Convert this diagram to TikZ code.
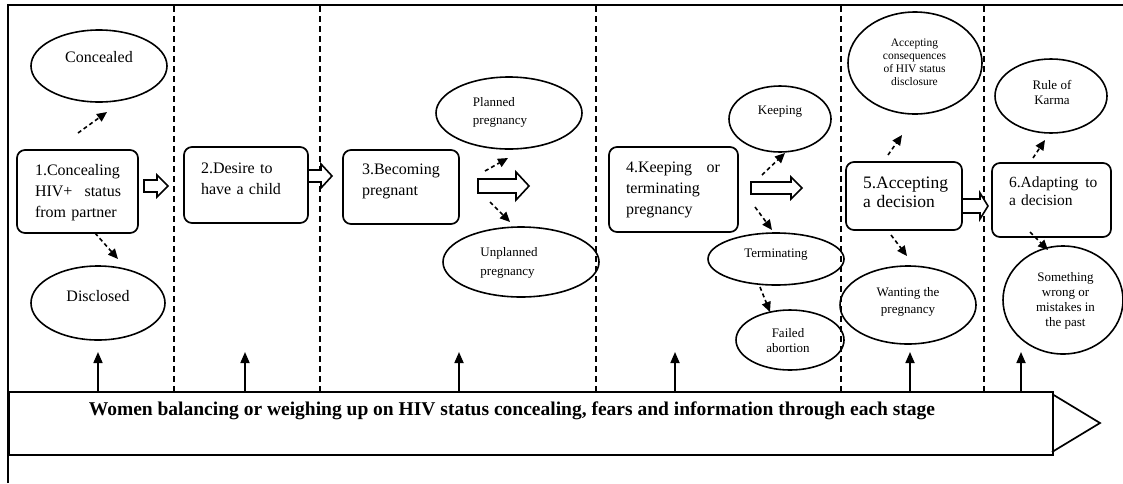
\documentclass[tikz,border=0pt]{standalone}
\usepackage{fontspec}
\setmainfont{Liberation Serif}
\usetikzlibrary{shapes.geometric,arrows.meta}
\newcommand\harrow[6]{\draw[hollow] (#1,#4-#5) -- (#3,#4-#5) -- (#3,#4-#6) -- (#2,#4) -- (#3,#4+#6) -- (#3,#4+#5) -- (#1,#4+#5) -- cycle;}
\begin{document}
\begin{tikzpicture}[x=1pt,y=-1pt,
  stagebox/.style={draw,rounded corners=8pt,line width=1.7pt,inner sep=0pt},
  stagetxt/.style={font=\fontsize{16}{21}\selectfont,align=left,inner sep=0pt},
  oval/.style={draw,ellipse,line width=1.6pt,inner sep=0pt},
  ovaltxt/.style={font=\fontsize{13}{15}\selectfont,align=center,inner sep=0pt},
  bigovaltxt/.style={font=\fontsize{16}{20}\selectfont,align=center,inner sep=0pt},
  dasharr/.style={line width=1.6pt,dash pattern=on 4pt off 3pt,-{Triangle[length=10pt,width=9pt]}},
  uparr/.style={line width=1.7pt,-{Triangle[length=11pt,width=9pt]}},
  divider/.style={line width=1.5pt,dash pattern=on 6pt off 4pt},
  hollow/.style={draw,line width=1.6pt,fill=white,line join=miter},
]
\useasboundingbox (0,0) rectangle (1123,483);
\fill[white] (0,0) rectangle (1123,483);

% frame
\draw[line width=2.8pt] (8,483) -- (8,5) -- (1123,5);

% dividers
\foreach \x in {174,320,596,841,984} \draw[divider] (\x,6) -- (\x,391);

% bottom band arrow
\node[draw,line width=1.7pt,minimum width=1044pt,minimum height=63pt,anchor=north west,inner sep=0pt] (band) at (8,391) {};
\draw[line width=1.7pt,line join=miter] (band.north east) ++(0,4) -- (1100,423) -- (1052,452);
\node[font=\bfseries\fontsize{19.5}{22}\selectfont,inner sep=0pt] (bandtext) at (512,411) {Women balancing or weighing up on HIV status concealing, fears and information through each stage};
\foreach \x in {98,245,459,675,910,1021} \draw[uparr] (\x,391) -- (\x,352);

% stage boxes
\node[stagebox,minimum width=121pt,minimum height=83pt] (s1) at (77.5,191.5) {};
\node[stagetxt,text width=86pt] (s1t) at (78,192.5) {1.Concealing\\HIV+\hfill status\\from partner};
\node[stagebox,minimum width=124pt,minimum height=76pt] (s2) at (246,185) {};
\node[stagetxt,text width=90pt] (s2t) at (246,179) {2.Desire to\\have a child};
\node[stagebox,minimum width=116pt,minimum height=74pt] (s3) at (401,187) {};
\node[stagetxt,text width=80pt] (s3t) at (402,181.5) {3.Becoming\\pregnant};
\node[stagebox,minimum width=129pt,minimum height=85pt] (s4) at (673.5,189.5) {};
\node[stagetxt,text width=94pt] (s4t) at (673,190) {4.Keeping\hfill or\\terminating\\pregnancy};
\node[stagebox,minimum width=116pt,minimum height=68pt] (s5) at (904,196) {};
\node[stagetxt,text width=86pt,font=\fontsize{17.5}{19}\selectfont] (s5t) at (906,192.5) {5.Accepting\\a decision};
\node[stagebox,minimum width=119pt,minimum height=74pt] (s6) at (1051.5,200) {};
\node[stagetxt,text width=90pt,font=\fontsize{15.5}{18}\selectfont] (s6t) at (1054,191.5) {6.Adapting\hspace{7pt}to\\a decision};

% hollow arrows
\harrow{144}{168}{157}{186}{6}{11}
\harrow{308}{332}{321}{176}{6}{12}
\harrow{478}{529}{516}{186}{7}{14}
\harrow{751}{802}{791}{188}{6}{11}
\harrow{962}{988}{980}{206}{7}{13}

% ovals
\node[oval,minimum width=136pt,minimum height=72pt] (concealed) at (99,66) {};
\node[bigovaltxt] (concealedt) at (99,57) {Concealed};
\node[oval,minimum width=134pt,minimum height=74pt] (disclosed) at (98,303) {};
\node[bigovaltxt] (disclosedt) at (98,296) {Disclosed};
\node[oval,minimum width=146pt,minimum height=72pt] (planned) at (509,113) {};
\node[ovaltxt,align=left,font=\fontsize{13}{18}\selectfont] (plannedt) at (500,112.5) {Planned\\pregnancy};
\node[oval,minimum width=156pt,minimum height=70pt] (unplanned) at (521,262) {};
\node[ovaltxt,align=left,font=\fontsize{13}{19}\selectfont] (unplannedt) at (509,262.5) {Unplanned\\pregnancy};
\node[oval,minimum width=102pt,minimum height=66pt] (keeping) at (780,119) {};
\node[ovaltxt] (keepingt) at (780,112) {Keeping};
\node[oval,minimum width=136pt,minimum height=52pt] (terminating) at (776,259) {};
\node[ovaltxt] (terminatingt) at (776,255) {Terminating};
\node[oval,minimum width=108pt,minimum height=60pt] (failed) at (790,340) {};
\node[ovaltxt] (failedt) at (788,340.5) {Failed\\abortion};
\node[oval,minimum width=134pt,minimum height=102pt] (accepting) at (915,63) {};
\node[ovaltxt,font=\fontsize{11.5}{13}\selectfont] (acceptingt) at (914.5,62) {Accepting\\consequences\\of HIV status\\disclosure};
\node[oval,minimum width=136pt,minimum height=78pt] (wanting) at (908,305) {};
\node[ovaltxt,font=\fontsize{13}{17}\selectfont] (wantingt) at (908,301.5) {Wanting the\\pregnancy};
\node[oval,minimum width=112pt,minimum height=74pt] (karma) at (1051,96) {};
\node[ovaltxt] (karmat) at (1052,92.5) {Rule of\\Karma};
\node[oval,minimum width=120pt,minimum height=108pt] (something) at (1063,300) {};
\node[ovaltxt] (somethingt) at (1065.5,301) {Something\\wrong or\\mistakes in\\the past};

% dashed connectors
\draw[dasharr] (78,133) -- (107,112);
\draw[dasharr] (95,233) -- (118,259);
\draw[dasharr] (485,171) -- (508,158);
\draw[dasharr] (490,202) -- (510,222);
\draw[dasharr] (762,175) -- (785,153);
\draw[dasharr] (755,207) -- (772,230);
\draw[dasharr] (760,287) -- (770,312);
\draw[dasharr] (888,155) -- (902,135);
\draw[dasharr] (891,235) -- (907,256);
\draw[dasharr] (1033,158) -- (1045,140);
\draw[dasharr] (1030,232) -- (1048,250);
\end{tikzpicture}
\end{document}
